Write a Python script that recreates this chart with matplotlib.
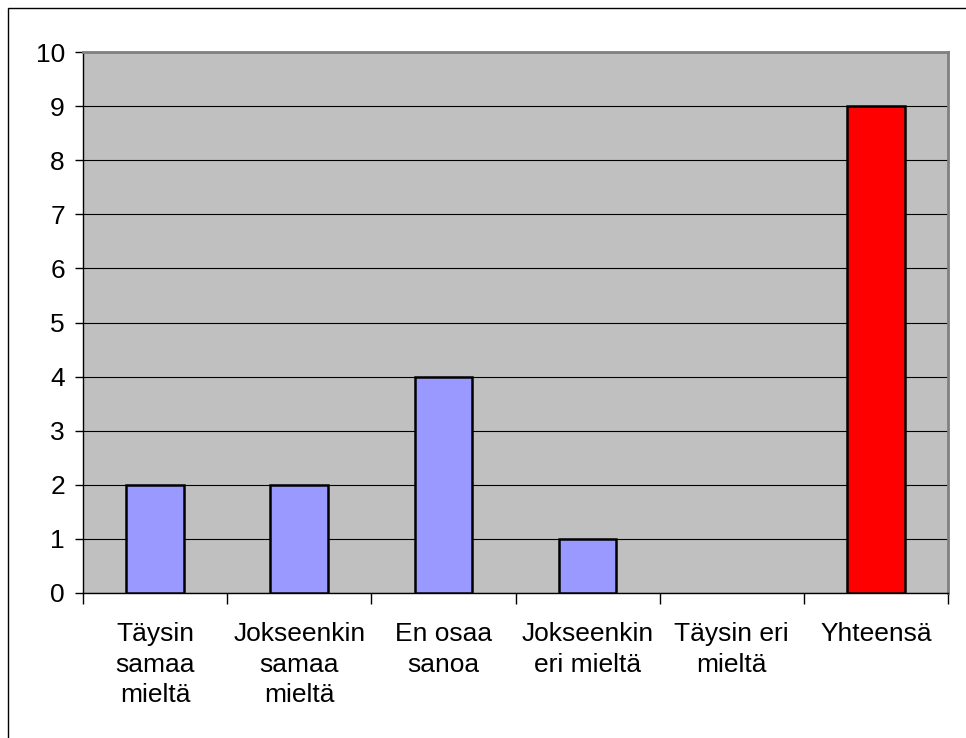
import matplotlib.pyplot as plt
from matplotlib.patches import Rectangle
import numpy as np

plt.rcParams["font.family"] = ["Liberation Sans", "DejaVu Sans"]

categories = [
    "Täysin\nsamaa\nmieltä",
    "Jokseenkin\nsamaa\nmieltä",
    "En osaa\nsanoa",
    "Jokseenkin\neri mieltä",
    "Täysin eri\nmieltä",
    "Yhteensä",
]
values = [2, 2, 4, 1, 0, 9]
colors = ["#9999FF"] * 5 + ["#FF0000"]
yticks = list(range(0, 11))

W, H = 966, 738
fig = plt.figure(figsize=(W / 100, H / 100), dpi=100)
fig.patch.set_facecolor("white")

# chart area border (only left and top visible in the crop)
fig.patches.append(
    Rectangle((8 / W, -0.1), 1.2, 1 - 8 / H + 0.1, transform=fig.transFigure,
              fill=False, edgecolor="black", lw=1.0)
)

left, right, top, bottom = 83, 948, 52, 593
ax = fig.add_axes([left / W, (H - bottom) / H, (right - left) / W, (bottom - top) / H])
ax.set_facecolor("#C0C0C0")

x = np.arange(len(categories))
lws = [1.8 if v > 0 else 0 for v in values]
ax.bar(x, values, width=0.4, color=colors, edgecolor="black", linewidth=lws, zorder=3)

ax.set_xlim(-0.5, len(categories) - 0.5)
ax.set_ylim(0, 10)
ax.set_yticks(yticks)
ax.yaxis.grid(True, color="black", lw=0.8, zorder=1)
ax.set_axisbelow(True)

# category boundary ticks, labels in the middle
ax.set_xticks(np.arange(-0.5, len(categories)), labels=[""] * (len(categories) + 1))
ax.set_xticks(x, labels=categories, minor=True)
ax.tick_params(axis="x", which="major", length=8, width=1, direction="out", color="black")
ax.tick_params(axis="x", which="minor", length=0, pad=21, labelsize=19)
ax.tick_params(axis="y", length=6, width=1, direction="out", labelsize=19, pad=7)
for lbl in ax.get_xticklabels(minor=True):
    lbl.set_linespacing(1.35)
    lbl.set_horizontalalignment("center")

for side in ["left", "bottom"]:
    ax.spines[side].set_color("black")
    ax.spines[side].set_linewidth(1.0)
for side in ["top", "right"]:
    ax.spines[side].set_color("#808080")
    ax.spines[side].set_linewidth(2.0)

fig.savefig("out.png", dpi=100)
